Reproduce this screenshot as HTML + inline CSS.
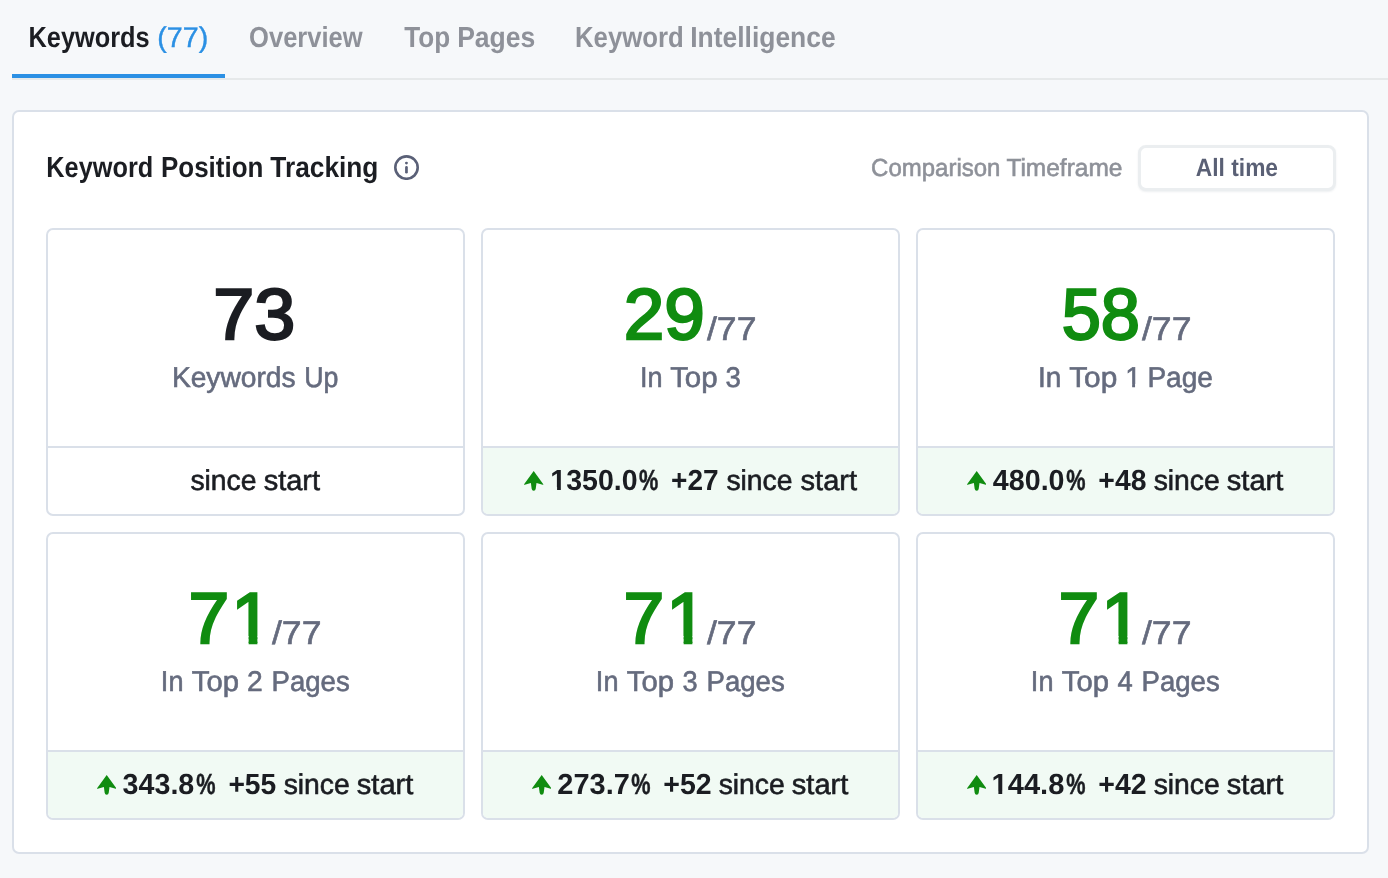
<!DOCTYPE html>
<html lang="en">
<head>
<meta charset="utf-8">
<title>Keyword Position Tracking</title>
<style>
*{box-sizing:border-box;margin:0;padding:0}
html,body{width:1388px;height:878px;overflow:hidden}
body{background:#f6f8fa;font-family:"Liberation Sans",sans-serif;color:#1b1d22;position:relative;text-rendering:geometricPrecision}
.p{position:absolute;left:0;top:0;white-space:nowrap;font-size:28px;line-height:40px}
.t{display:inline-block;vertical-align:top;white-space:nowrap;transform-origin:0 0}
.tabline{position:absolute;left:12px;top:78px;width:1376px;height:2px;background:#e6e9ea}
.tabactive{position:absolute;left:12px;top:74px;width:213px;height:4px;background:#2b90e4}
.panel{position:absolute;left:12px;top:110px;width:1357px;height:744px;background:#fff;border:2px solid #dae0e9;border-radius:7px}
.info{position:absolute;left:394.1px;top:155px;width:25px;height:25px}
.btn{position:absolute;left:1138px;top:145px;width:198px;height:46px;border:3px solid #ebeef0;border-radius:8px;background:#fff;box-shadow:0 1px 2px rgba(60,80,100,.09)}
.card{position:absolute;width:419px;height:288px;border:2px solid #dae0e9;border-radius:7px;background:#fff;overflow:hidden}
.foot{position:absolute;left:0;right:0;top:216px;height:68px;border-top:2px solid #dae0e9}
.foot.g{background:#f1faf4}
.ar{position:absolute}
</style>
</head>
<body>
<div class="tabline"></div>
<div class="tabactive"></div>
<div class="panel"></div>
<svg class="info" viewBox="0 0 25 25"><circle cx="12.5" cy="12.55" r="11.2" fill="none" stroke="#5a6077" stroke-width="2.6"/><circle cx="12.45" cy="8.1" r="1.45" fill="#5a6077"/><rect x="11.1" y="11.1" width="2.7" height="7.4" rx="1.35" fill="#5a6077"/></svg>
<div class="btn"></div>
<div class="card" style="left:46px;top:228px"><div class="foot"></div></div>
<div class="card" style="left:481px;top:228px"><div class="foot g"></div></div>
<div class="card" style="left:916px;top:228px"><div class="foot g"></div></div>
<div class="card" style="left:46px;top:532px"><div class="foot g"></div></div>
<div class="card" style="left:481px;top:532px"><div class="foot g"></div></div>
<div class="card" style="left:916px;top:532px"><div class="foot g"></div></div>

<svg class="ar" style="left:524.15px;top:471.25px" width="19.4" height="19.85" viewBox="0 0 20 20" preserveAspectRatio="none"><path d="M10 0 L19.9 13.3 Q20.2 14 19.3 13.8 L12.9 12.2 L12.1 17.9 Q11.8 20 10 20 Q8.2 20 7.9 17.9 L7.1 12.2 L0.7 13.8 Q-0.2 14 0.1 13.3 Z" fill="#108c10"/></svg>
<svg class="ar" style="left:966.90px;top:471.25px" width="19.4" height="19.85" viewBox="0 0 20 20" preserveAspectRatio="none"><path d="M10 0 L19.9 13.3 Q20.2 14 19.3 13.8 L12.9 12.2 L12.1 17.9 Q11.8 20 10 20 Q8.2 20 7.9 17.9 L7.1 12.2 L0.7 13.8 Q-0.2 14 0.1 13.3 Z" fill="#108c10"/></svg>
<svg class="ar" style="left:96.90px;top:775.25px" width="19.4" height="19.85" viewBox="0 0 20 20" preserveAspectRatio="none"><path d="M10 0 L19.9 13.3 Q20.2 14 19.3 13.8 L12.9 12.2 L12.1 17.9 Q11.8 20 10 20 Q8.2 20 7.9 17.9 L7.1 12.2 L0.7 13.8 Q-0.2 14 0.1 13.3 Z" fill="#108c10"/></svg>
<svg class="ar" style="left:531.90px;top:775.25px" width="19.4" height="19.85" viewBox="0 0 20 20" preserveAspectRatio="none"><path d="M10 0 L19.9 13.3 Q20.2 14 19.3 13.8 L12.9 12.2 L12.1 17.9 Q11.8 20 10 20 Q8.2 20 7.9 17.9 L7.1 12.2 L0.7 13.8 Q-0.2 14 0.1 13.3 Z" fill="#108c10"/></svg>
<svg class="ar" style="left:966.90px;top:775.25px" width="19.4" height="19.85" viewBox="0 0 20 20" preserveAspectRatio="none"><path d="M10 0 L19.9 13.3 Q20.2 14 19.3 13.8 L12.9 12.2 L12.1 17.9 Q11.8 20 10 20 Q8.2 20 7.9 17.9 L7.1 12.2 L0.7 13.8 Q-0.2 14 0.1 13.3 Z" fill="#108c10"/></svg>
<div class="p"><span class="t" style="font-size:29.0px;line-height:40px;color:#1b1d22;transform:translate(28.51px,18.00px) scaleX(0.8745);font-weight:bold;">Keywords</span> <span class="t" style="font-size:28.5px;line-height:40px;color:#2b90e4;transform:translate(11.35px,18.00px) scaleX(1.0032);-webkit-text-stroke:0.4px #2b90e4;">(77)</span></div>
<div class="p"><span class="t" style="font-size:29.0px;line-height:40px;color:#8e9199;transform:translate(249.05px,18.00px) scaleX(0.8810);font-weight:bold;">Overview</span></div>
<div class="p"><span class="t" style="font-size:29.0px;line-height:40px;color:#8e9199;transform:translate(404.28px,18.00px) scaleX(0.8990);font-weight:bold;">Top</span> <span class="t" style="font-size:29.0px;line-height:40px;color:#8e9199;transform:translate(398.14px,18.00px) scaleX(0.9149);font-weight:bold;">Pages</span></div>
<div class="p"><span class="t" style="font-size:29.0px;line-height:40px;color:#8e9199;transform:translate(574.97px,18.00px) scaleX(0.8882);font-weight:bold;">Keyword</span> <span class="t" style="font-size:29.0px;line-height:40px;color:#8e9199;transform:translate(560.16px,18.00px) scaleX(0.9121);font-weight:bold;">Intelligence</span></div>
<div class="p"><span class="t" style="font-size:29.0px;line-height:40px;color:#1b1d22;transform:translate(46.25px,148.00px) scaleX(0.8734);font-weight:bold;">Keyword</span> <span class="t" style="font-size:29.0px;line-height:40px;color:#1b1d22;transform:translate(30.94px,148.00px) scaleX(0.8959);font-weight:bold;">Position</span> <span class="t" style="font-size:29.0px;line-height:40px;color:#1b1d22;transform:translate(18.34px,148.00px) scaleX(0.9060);font-weight:bold;">Tracking</span></div>
<div class="p"><span class="t" style="font-size:24.6px;line-height:40px;color:#8e9199;transform:translate(871.12px,149.00px) scaleX(0.9750);-webkit-text-stroke:0.6px #8e9199;">Comparison</span> <span class="t" style="font-size:24.6px;line-height:40px;color:#8e9199;transform:translate(866.38px,149.00px) scaleX(0.9948);-webkit-text-stroke:0.6px #8e9199;">Timeframe</span></div>
<div class="p"><span class="t" style="font-size:25.0px;line-height:40px;color:#5a6075;transform:translate(1195.82px,148.00px) scaleX(0.9104);font-weight:bold;">All time</span></div>
<div class="p"><span class="t" style="font-size:72.2px;line-height:100px;color:#1b1d22;transform:translate(213.25px,265.00px) scaleX(1.0218);-webkit-text-stroke:2.4px #1b1d22;">73</span></div>
<div class="p"><span class="t" style="font-size:28.5px;line-height:40px;color:#656b7e;transform:translate(171.92px,358.00px) scaleX(0.9878);-webkit-text-stroke:0.6px #656b7e;">Keywords</span> <span class="t" style="font-size:28.5px;line-height:40px;color:#656b7e;transform:translate(171.30px,358.00px) scaleX(0.9373);-webkit-text-stroke:0.6px #656b7e;">Up</span></div>
<div class="p"><span class="t" style="font-size:28.5px;line-height:40px;color:#1b1d22;transform:translate(190.40px,461.00px) scaleX(0.9938);-webkit-text-stroke:0.6px #1b1d22;">since</span> <span class="t" style="font-size:28.5px;line-height:40px;color:#1b1d22;transform:translate(189.66px,461.00px) scaleX(1.0182);-webkit-text-stroke:0.6px #1b1d22;">start</span></div>
<div class="p"><span class="t" style="font-size:72.2px;line-height:100px;color:#108c10;transform:translate(623.68px,265.00px) scaleX(1.0093);-webkit-text-stroke:2.4px #108c10;">29</span><span class="t" style="font-size:32.6px;line-height:40px;color:#656b7e;transform:translate(626.98px,309.00px) scaleX(1.0915);-webkit-text-stroke:0.6px #656b7e;">/77</span></div>
<div class="p"><span class="t" style="font-size:28.5px;line-height:40px;color:#656b7e;transform:translate(639.96px,358.00px) scaleX(0.9500);-webkit-text-stroke:0.6px #656b7e;">In</span> <span class="t" style="font-size:28.5px;line-height:40px;color:#656b7e;transform:translate(638.13px,358.00px) scaleX(1.0335);-webkit-text-stroke:0.6px #656b7e;">Top</span> <span class="t" style="font-size:28.5px;line-height:40px;color:#656b7e;transform:translate(640.58px,358.00px) scaleX(0.9684);-webkit-text-stroke:0.6px #656b7e;">3</span></div>
<div class="p"><span class="t" style="font-size:29.0px;line-height:40px;color:#1b1d22;transform:translate(550.33px,461.00px) scaleX(0.9848);font-weight:bold;clip-path:polygon(0 0,100% 0,100% 100%,16.1px 100%,16.1px 26px,10.66px 26px,10.66px 100%,6.84px 100%,6.84px 26px,0 26px);">1350.0</span><span class="t" style="font-size:29.0px;line-height:40px;color:#1b1d22;transform:translate(550.02px,461.00px) scaleX(0.7475);font-weight:bold;-webkit-text-stroke:0.5px #1b1d22;">%</span> <span class="t" style="font-size:29.0px;line-height:40px;color:#1b1d22;transform:translate(549.01px,461.00px) scaleX(0.9668);font-weight:bold;">+27</span> <span class="t" style="font-size:28.5px;line-height:40px;color:#1b1d22;transform:translate(547.40px,461.00px) scaleX(0.9938);-webkit-text-stroke:0.6px #1b1d22;">since</span> <span class="t" style="font-size:28.5px;line-height:40px;color:#1b1d22;transform:translate(546.56px,461.00px) scaleX(1.0200);-webkit-text-stroke:0.6px #1b1d22;">start</span></div>
<div class="p"><span class="t" style="font-size:72.2px;line-height:100px;color:#108c10;transform:translate(1061.64px,265.00px) scaleX(0.9759);-webkit-text-stroke:2.4px #108c10;">58</span><span class="t" style="font-size:32.6px;line-height:40px;color:#656b7e;transform:translate(1061.98px,309.00px) scaleX(1.0915);-webkit-text-stroke:0.6px #656b7e;">/77</span></div>
<div class="p"><span class="t" style="font-size:28.5px;line-height:40px;color:#656b7e;transform:translate(1037.88px,358.00px) scaleX(0.9850);-webkit-text-stroke:0.6px #656b7e;">In</span> <span class="t" style="font-size:28.5px;line-height:40px;color:#656b7e;transform:translate(1037.18px,358.00px) scaleX(1.0458);-webkit-text-stroke:0.6px #656b7e;">Top</span> <span class="t" style="font-size:28.5px;line-height:40px;color:#656b7e;transform:translate(1039.87px,358.00px) scaleX(1.0000);-webkit-text-stroke:0.6px #656b7e;clip-path:polygon(0 0,100% 0,100% 26px,9.88px 26px,9.88px 100%,7.0px 100%,7.0px 26px,0 26px);">1</span> <span class="t" style="font-size:28.5px;line-height:40px;color:#656b7e;transform:translate(1038.39px,358.00px) scaleX(0.9843);-webkit-text-stroke:0.6px #656b7e;">Page</span></div>
<div class="p"><span class="t" style="font-size:29.0px;line-height:40px;color:#1b1d22;transform:translate(992.81px,461.00px) scaleX(0.9887);font-weight:bold;">480.0</span><span class="t" style="font-size:29.0px;line-height:40px;color:#1b1d22;transform:translate(993.15px,461.00px) scaleX(0.7475);font-weight:bold;-webkit-text-stroke:0.5px #1b1d22;">%</span> <span class="t" style="font-size:29.0px;line-height:40px;color:#1b1d22;transform:translate(992.37px,461.00px) scaleX(0.9777);font-weight:bold;">+48</span> <span class="t" style="font-size:28.5px;line-height:40px;color:#1b1d22;transform:translate(990.66px,461.00px) scaleX(0.9938);-webkit-text-stroke:0.6px #1b1d22;">since</span> <span class="t" style="font-size:28.5px;line-height:40px;color:#1b1d22;transform:translate(989.82px,461.00px) scaleX(1.0200);-webkit-text-stroke:0.6px #1b1d22;">start</span></div>
<div class="p"><span class="t" style="font-size:72.2px;line-height:100px;color:#108c10;transform:translate(188.50px,569.00px) scaleX(1.0160);-webkit-text-stroke:2.4px #108c10;letter-spacing:2.0px;clip-path:polygon(0 0,100% 0,100% 100%,82px 100%,82px 67px,67.78px 67px,67.78px 100%,59.22px 100%,59.22px 67px,44px 67px,44px 100%,0 100%);">71</span><span class="t" style="font-size:32.6px;line-height:40px;color:#656b7e;transform:translate(187.98px,613.00px) scaleX(1.0915);-webkit-text-stroke:0.6px #656b7e;">/77</span></div>
<div class="p"><span class="t" style="font-size:28.5px;line-height:40px;color:#656b7e;transform:translate(160.86px,662.00px) scaleX(0.9500);-webkit-text-stroke:0.6px #656b7e;">In</span> <span class="t" style="font-size:28.5px;line-height:40px;color:#656b7e;transform:translate(159.78px,662.00px) scaleX(1.0257);-webkit-text-stroke:0.6px #656b7e;">Top</span> <span class="t" style="font-size:28.5px;line-height:40px;color:#656b7e;transform:translate(162.11px,662.00px) scaleX(0.9891);-webkit-text-stroke:0.6px #656b7e;">2</span> <span class="t" style="font-size:28.5px;line-height:40px;color:#656b7e;transform:translate(162.53px,662.00px) scaleX(0.9679);-webkit-text-stroke:0.6px #656b7e;">Pages</span></div>
<div class="p"><span class="t" style="font-size:29.0px;line-height:40px;color:#1b1d22;transform:translate(122.56px,765.00px) scaleX(0.9887);font-weight:bold;">343.8</span><span class="t" style="font-size:29.0px;line-height:40px;color:#1b1d22;transform:translate(123.15px,765.00px) scaleX(0.7475);font-weight:bold;-webkit-text-stroke:0.5px #1b1d22;">%</span> <span class="t" style="font-size:29.0px;line-height:40px;color:#1b1d22;transform:translate(122.38px,765.00px) scaleX(0.9725);font-weight:bold;">+55</span> <span class="t" style="font-size:28.5px;line-height:40px;color:#1b1d22;transform:translate(120.66px,765.00px) scaleX(0.9938);-webkit-text-stroke:0.6px #1b1d22;">since</span> <span class="t" style="font-size:28.5px;line-height:40px;color:#1b1d22;transform:translate(119.82px,765.00px) scaleX(1.0200);-webkit-text-stroke:0.6px #1b1d22;">start</span></div>
<div class="p"><span class="t" style="font-size:72.2px;line-height:100px;color:#108c10;transform:translate(623.50px,569.00px) scaleX(1.0160);-webkit-text-stroke:2.4px #108c10;letter-spacing:2.0px;clip-path:polygon(0 0,100% 0,100% 100%,82px 100%,82px 67px,67.78px 67px,67.78px 100%,59.22px 100%,59.22px 67px,44px 67px,44px 100%,0 100%);">71</span><span class="t" style="font-size:32.6px;line-height:40px;color:#656b7e;transform:translate(622.98px,613.00px) scaleX(1.0915);-webkit-text-stroke:0.6px #656b7e;">/77</span></div>
<div class="p"><span class="t" style="font-size:28.5px;line-height:40px;color:#656b7e;transform:translate(595.86px,662.00px) scaleX(0.9500);-webkit-text-stroke:0.6px #656b7e;">In</span> <span class="t" style="font-size:28.5px;line-height:40px;color:#656b7e;transform:translate(594.78px,662.00px) scaleX(1.0257);-webkit-text-stroke:0.6px #656b7e;">Top</span> <span class="t" style="font-size:28.5px;line-height:40px;color:#656b7e;transform:translate(597.39px,662.00px) scaleX(0.9544);-webkit-text-stroke:0.6px #656b7e;">3</span> <span class="t" style="font-size:28.5px;line-height:40px;color:#656b7e;transform:translate(597.53px,662.00px) scaleX(0.9679);-webkit-text-stroke:0.6px #656b7e;">Pages</span></div>
<div class="p"><span class="t" style="font-size:29.0px;line-height:40px;color:#1b1d22;transform:translate(557.30px,765.00px) scaleX(0.9993);font-weight:bold;">273.7</span><span class="t" style="font-size:29.0px;line-height:40px;color:#1b1d22;transform:translate(558.15px,765.00px) scaleX(0.7475);font-weight:bold;-webkit-text-stroke:0.5px #1b1d22;">%</span> <span class="t" style="font-size:29.0px;line-height:40px;color:#1b1d22;transform:translate(557.37px,765.00px) scaleX(0.9829);font-weight:bold;">+52</span> <span class="t" style="font-size:28.5px;line-height:40px;color:#1b1d22;transform:translate(555.66px,765.00px) scaleX(0.9938);-webkit-text-stroke:0.6px #1b1d22;">since</span> <span class="t" style="font-size:28.5px;line-height:40px;color:#1b1d22;transform:translate(554.82px,765.00px) scaleX(1.0200);-webkit-text-stroke:0.6px #1b1d22;">start</span></div>
<div class="p"><span class="t" style="font-size:72.2px;line-height:100px;color:#108c10;transform:translate(1058.50px,569.00px) scaleX(1.0160);-webkit-text-stroke:2.4px #108c10;letter-spacing:2.0px;clip-path:polygon(0 0,100% 0,100% 100%,82px 100%,82px 67px,67.78px 67px,67.78px 100%,59.22px 100%,59.22px 67px,44px 67px,44px 100%,0 100%);">71</span><span class="t" style="font-size:32.6px;line-height:40px;color:#656b7e;transform:translate(1057.98px,613.00px) scaleX(1.0915);-webkit-text-stroke:0.6px #656b7e;">/77</span></div>
<div class="p"><span class="t" style="font-size:28.5px;line-height:40px;color:#656b7e;transform:translate(1030.86px,662.00px) scaleX(0.9500);-webkit-text-stroke:0.6px #656b7e;">In</span> <span class="t" style="font-size:28.5px;line-height:40px;color:#656b7e;transform:translate(1029.78px,662.00px) scaleX(1.0257);-webkit-text-stroke:0.6px #656b7e;">Top</span> <span class="t" style="font-size:28.5px;line-height:40px;color:#656b7e;transform:translate(1032.46px,662.00px) scaleX(0.9600);-webkit-text-stroke:0.6px #656b7e;">4</span> <span class="t" style="font-size:28.5px;line-height:40px;color:#656b7e;transform:translate(1032.53px,662.00px) scaleX(0.9679);-webkit-text-stroke:0.6px #656b7e;">Pages</span></div>
<div class="p"><span class="t" style="font-size:29.0px;line-height:40px;color:#1b1d22;transform:translate(991.54px,765.00px) scaleX(1.0029);font-weight:bold;clip-path:polygon(0 0,100% 0,100% 100%,16.1px 100%,16.1px 26px,10.66px 26px,10.66px 100%,6.84px 100%,6.84px 26px,0 26px);">144.8</span><span class="t" style="font-size:29.0px;line-height:40px;color:#1b1d22;transform:translate(993.15px,765.00px) scaleX(0.7475);font-weight:bold;-webkit-text-stroke:0.5px #1b1d22;">%</span> <span class="t" style="font-size:29.0px;line-height:40px;color:#1b1d22;transform:translate(992.37px,765.00px) scaleX(0.9829);font-weight:bold;">+42</span> <span class="t" style="font-size:28.5px;line-height:40px;color:#1b1d22;transform:translate(990.66px,765.00px) scaleX(0.9938);-webkit-text-stroke:0.6px #1b1d22;">since</span> <span class="t" style="font-size:28.5px;line-height:40px;color:#1b1d22;transform:translate(989.82px,765.00px) scaleX(1.0200);-webkit-text-stroke:0.6px #1b1d22;">start</span></div>
</body>
</html>
